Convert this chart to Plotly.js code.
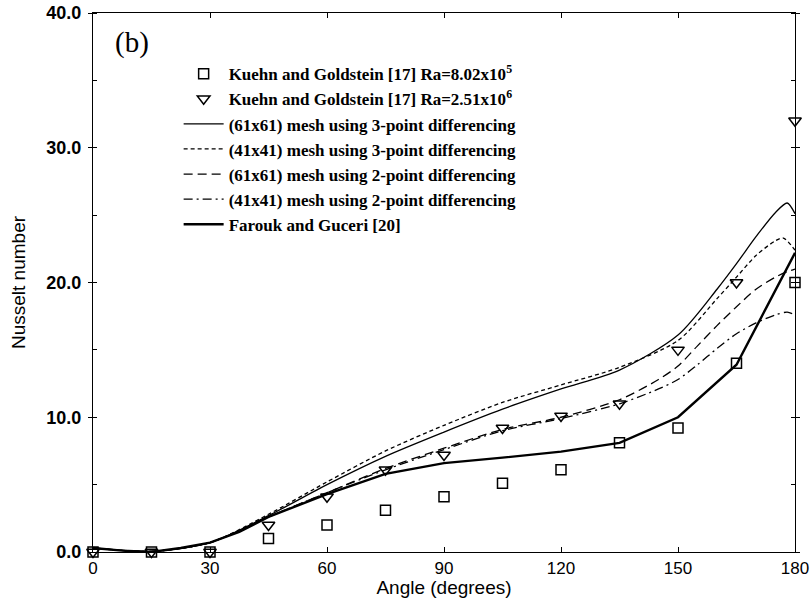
<!DOCTYPE html>
<html>
<head>
<meta charset="utf-8">
<script src="https://cdn.plot.ly/plotly-3.0.1.min.js"></script>
<style>body{margin:0;background:#fff}#plot{width:810px;height:609px}</style>
</head>
<body>
<div id="plot"></div>
<script>
// Experimental data (Kuehn and Goldstein [17])
const expAngle = [0, 15, 30, 45, 60, 75, 90, 105, 120, 135, 150, 165, 180];
const kgLow = [0, 0, 0, 1.0, 2.0, 3.1, 4.1, 5.1, 6.1, 8.1, 9.2, 14.0, 20.0];   // Ra=8.02x10^5
const kgHigh = [0, 0, 0, 2.0, 4.1, 6.1, 7.2, 9.2, 10.1, 11.0, 15.0, 20.0, 32.0]; // Ra=2.51x10^6

// (61x61) mesh 3-point differencing
const ang61_3 = [0, 15, 30, 45, 60, 75, 90, 105, 120, 135, 150, 160, 165, 170, 175, 178, 180];
const nu61_3 = [0.3, 0.05, 0.7, 2.7, 5.0, 7.1, 8.9, 10.6, 12.1, 13.5, 16.1, 19.5, 21.4, 23.4, 25.2, 25.9, 25.1];

// (41x41) mesh 3-point differencing
const ang41_3 = [0, 15, 30, 45, 60, 75, 90, 105, 120, 135, 150, 160, 165, 170, 175, 177, 180];
const nu41_3 = [0.3, 0.05, 0.7, 2.8, 5.2, 7.5, 9.4, 11.1, 12.4, 13.7, 15.7, 18.8, 20.4, 22.0, 23.1, 23.3, 22.4];

// (61x61) mesh 2-point differencing
const ang61_2 = [0, 15, 30, 45, 60, 75, 90, 105, 120, 135, 145, 150, 155, 160, 165, 170, 175, 178, 180];
const nu61_2 = [0.3, 0.05, 0.7, 2.6, 4.4, 6.2, 7.7, 9.1, 10.0, 11.3, 12.8, 13.8, 15.3, 16.8, 18.2, 19.5, 20.4, 20.8, 21.0];

// (41x41) mesh 2-point differencing
const ang41_2 = [0, 15, 30, 45, 60, 75, 90, 105, 120, 135, 145, 150, 155, 160, 165, 170, 175, 178, 180];
const nu41_2 = [0.3, 0.05, 0.7, 2.6, 4.4, 6.1, 7.6, 9.0, 9.9, 11.0, 12.1, 12.8, 13.9, 15.1, 16.2, 17.0, 17.6, 17.8, 17.6];

// Farouk and Guceri [20]
const angFG = [0, 7.5, 15, 22.5, 30, 37.5, 45, 60, 75, 90, 105, 120, 135, 150, 165, 180];
const nuFG = [0.3, 0.1, 0.0, 0.3, 0.7, 1.5, 2.6, 4.3, 5.8, 6.6, 7.0, 7.45, 8.1, 10.0, 13.9, 22.2];

const xTicks = [0, 30, 60, 90, 120, 150, 180];
const yTicks = [0, 10, 20, 30, 40];
const yTickText = ['0.0', '10.0', '20.0', '30.0', '40.0'];

const names = [
  'Kuehn and Goldstein [17] Ra=8.02x10<sup>5</sup>',
  'Kuehn and Goldstein [17] Ra=2.51x10<sup>6</sup>',
  '(61x61) mesh using 3-point differencing',
  '(41x41) mesh using 3-point differencing',
  '(61x61) mesh using 2-point differencing',
  '(41x41) mesh using 2-point differencing',
  'Farouk and Guceri [20]'
];

const traces = [
  {x: ang61_3, y: nu61_3, mode: 'lines', name: names[2], legendrank: 3,
   line: {color: '#000', width: 1.3, shape: 'spline', smoothing: 0.8}},
  {x: ang41_3, y: nu41_3, mode: 'lines', name: names[3], legendrank: 4,
   line: {color: '#000', width: 1.3, dash: '4px,3px', shape: 'spline', smoothing: 0.8}},
  {x: ang61_2, y: nu61_2, mode: 'lines', name: names[4], legendrank: 5,
   line: {color: '#000', width: 1.3, dash: '9px,5px', shape: 'spline', smoothing: 0.8}},
  {x: ang41_2, y: nu41_2, mode: 'lines', name: names[5], legendrank: 6,
   line: {color: '#000', width: 1.3, dash: '9px,4px,2px,4px', shape: 'spline', smoothing: 0.8}},
  {x: angFG, y: nuFG, mode: 'lines', name: names[6], legendrank: 7,
   line: {color: '#000', width: 2.4, shape: 'linear'}},
  {x: expAngle, y: kgLow, mode: 'markers', name: names[0], legendrank: 1, cliponaxis: false,
   marker: {symbol: 'square-open', size: 10, color: '#000', line: {width: 1.5, color: '#000'}}},
  {x: expAngle, y: kgHigh, mode: 'markers', name: names[1], legendrank: 2, cliponaxis: false,
   marker: {symbol: 'triangle-down-open', size: 11, color: '#000', line: {width: 1.5, color: '#000'}}}
];

const layout = {
  width: 810, height: 609,
  margin: {l: 93, r: 15, t: 13, b: 57},
  paper_bgcolor: '#fff', plot_bgcolor: '#fff',
  showlegend: true,
  legend: {
    x: 0.122, y: 0.92, xanchor: 'left', yanchor: 'top',
    bgcolor: 'rgba(0,0,0,0)', borderwidth: 0,
    font: {family: 'Liberation Serif', size: 17, weight: 'bold', color: '#000'},
    tracegroupgap: 0, itemwidth: 40
  },
  xaxis: {
    range: [0, 180], tickvals: xTicks, ticktext: xTicks.map(String),
    showgrid: false, zeroline: false, showline: true, linecolor: '#000', linewidth: 1.2,
    mirror: 'ticks', ticks: 'inside', ticklen: 5, tickcolor: '#000',
    tickfont: {family: 'Liberation Sans', size: 17, color: '#000'},
    title: {text: 'Angle (degrees)', font: {family: 'Liberation Sans', size: 19, color: '#000'}, standoff: 3}
  },
  yaxis: {
    range: [0, 40], tickvals: yTicks, ticktext: yTickText,
    showgrid: false, zeroline: false, showline: true, linecolor: '#000', linewidth: 1.2,
    mirror: 'ticks', ticks: 'outside', ticklen: 4, tickcolor: '#000', ticklabelstandoff: 3,
    minor: {dtick: 5, ticks: 'inside', ticklen: 4, tickcolor: '#000', showgrid: false},
    tickfont: {family: 'Liberation Sans', size: 18, weight: 'bold', color: '#000'},
    title: {text: 'Nusselt number', font: {family: 'Liberation Sans', size: 19, color: '#000'}, standoff: 15}
  },
  annotations: [{
    text: '(b)', xref: 'paper', yref: 'paper', x: 0.028, y: 0.98,
    xanchor: 'left', yanchor: 'top', showarrow: false,
    font: {family: 'Liberation Serif', size: 29, color: '#000'}
  }]
};

Plotly.newPlot('plot', traces, layout, {displayModeBar: false});
</script>
</body>
</html>
